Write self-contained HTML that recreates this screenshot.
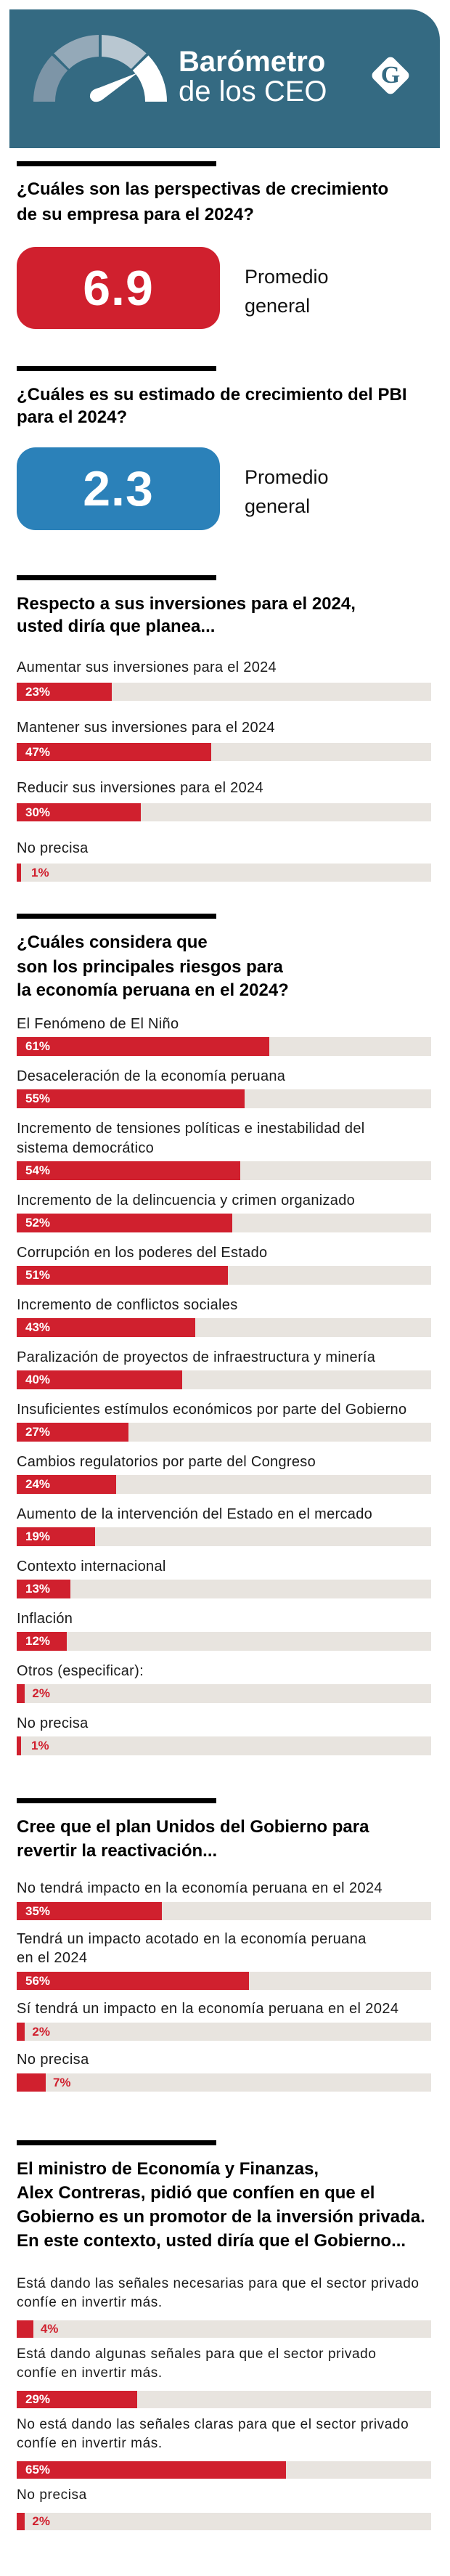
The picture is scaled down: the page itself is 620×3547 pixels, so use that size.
<!DOCTYPE html>
<html><head><meta charset="utf-8">
<style>
*{margin:0;padding:0;box-sizing:border-box}
body{width:620px;height:3547px;background:#fff;position:relative;overflow:hidden;font-family:"Liberation Sans",sans-serif;color:#111}
.abs{position:absolute}
.rule{position:absolute;left:23px;width:275px;height:7px;background:#000}
.title{position:absolute;left:23px;font-weight:bold;font-size:24px;line-height:22px;white-space:nowrap;color:#000}
.box{position:absolute;left:23px;width:280px;border-radius:26px;color:#fff;font-weight:bold;font-size:68px;display:flex;align-items:center;justify-content:center;letter-spacing:1px}
.prom{position:absolute;left:337px;font-size:27px;line-height:40px;color:#111}
.lbl{position:absolute;left:23px;font-size:20px;line-height:26px;white-space:nowrap;color:#1a1a1a}
.track{position:absolute;left:23px;width:571px;background:#e8e4df}
.bar{position:absolute;left:23px;background:#d0202e}
.pct{position:absolute;font-weight:bold;font-size:17px;white-space:nowrap}
</style></head>
<body>
<div class="abs" style="left:13px;top:13px;width:593px;height:191px;background:#346a82;border-top-right-radius:42px">
  <svg width="593" height="191" style="position:absolute;left:0;top:0">
    <g transform="translate(125,127)">
      <path d="M-92 0 A92 92 0 0 1 -66.5 -63.6 L-44.8 -43 A62 62 0 0 0 -62 0 Z" fill="#7d95a7"/>
      <path d="M-63.6 -66.5 A92 92 0 0 1 -2 -92 L-2 -62 A62 62 0 0 0 -42.6 -45 Z" fill="#94a9b8"/>
      <path d="M2 -92 A92 92 0 0 1 63.6 -66.5 L42.6 -45 A62 62 0 0 0 2 -62 Z" fill="#b9c7d1"/>
      <path d="M66.5 -63.6 A92 92 0 0 1 92 0 L62 0 A62 62 0 0 0 44.8 -43 Z" fill="#ffffff"/>
      <path d="M-2 -19 L52 -40 L2 -2 Q-10 4 -14 -6 Q-15 -16 -2 -19 Z" fill="#fff"/>
    </g>
  </svg>
  <div class="abs" style="left:233px;top:50px;color:#fff;font-size:40px;font-weight:bold;line-height:44px">Barómetro</div>
  <div class="abs" style="left:233px;top:91px;color:#fff;font-size:40px;line-height:44px">de los CEO</div>
  <div class="abs" style="left:505px;top:71px;width:40px;height:40px;background:#fff;border-radius:7px;transform:rotate(45deg)"></div>
  <div class="abs" style="left:510px;top:71px;width:30px;text-align:center;color:#346a82;font-size:34px;font-weight:bold;line-height:40px;font-family:'Liberation Serif',serif">G</div>
</div>

<div class="rule" style="top:222px"></div>
<div class="title" style="top:250px">¿Cuáles son las perspectivas de crecimiento</div>
<div class="title" style="top:285px">de su empresa para el 2024?</div>
<div class="box" style="top:340px;height:113px;background:#d0202e">6.9</div>
<div class="prom" style="top:361px">Promedio<br>general</div>

<div class="rule" style="top:504px"></div>
<div class="title" style="top:533px">¿Cuáles es su estimado de crecimiento del PBI</div>
<div class="title" style="top:564px">para el 2024?</div>
<div class="box" style="top:616px;height:114px;background:#2b81b9">2.3</div>
<div class="prom" style="top:637px">Promedio<br>general</div>

<div class="rule" style="top:792px"></div>
<div class="title" style="top:821px">Respecto a sus inversiones para el 2024,</div>
<div class="title" style="top:852px">usted diría que planea...</div>

<div class="rule" style="top:1258px"></div>
<div class="title" style="top:1287px">¿Cuáles considera que</div>
<div class="title" style="top:1321px">son los principales riesgos para</div>
<div class="title" style="top:1353px">la economía peruana en el 2024?</div>

<div class="rule" style="top:2476px"></div>
<div class="title" style="top:2505px">Cree que el plan Unidos del Gobierno para</div>
<div class="title" style="top:2538px">revertir la reactivación...</div>

<div class="rule" style="top:2947px"></div>
<div class="title" style="top:2976px">El ministro de Economía y Finanzas,</div>
<div class="title" style="top:3009px">Alex Contreras, pidió que confíen en que el</div>
<div class="title" style="top:3042px">Gobierno es un promotor de la inversión privada.</div>
<div class="title" style="top:3075px">En este contexto, usted diría que el Gobierno...</div>

<script>
const invCategories = ["Aumentar sus inversiones para el 2024","Mantener sus inversiones para el 2024","Reducir sus inversiones para el 2024","No precisa"];
const invValues = [23,47,30,1];

const riskCategories = ["El Fenómeno de El Niño","Desaceleración de la economía peruana","Incremento de tensiones políticas e inestabilidad del|sistema democrático","Incremento de la delincuencia y crimen organizado","Corrupción en los poderes del Estado","Incremento de conflictos sociales","Paralización de proyectos de infraestructura y minería","Insuficientes estímulos económicos por parte del Gobierno","Cambios regulatorios por parte del Congreso","Aumento de la intervención del Estado en el mercado","Contexto internacional","Inflación","Otros (especificar):","No precisa"];
const riskValues = [61,55,54,52,51,43,40,27,24,19,13,12,2,1];

const planCategories = ["No tendrá impacto en la economía peruana en el 2024","Tendrá un impacto acotado en la economía peruana|en el 2024","Sí tendrá un impacto en la economía peruana en el 2024","No precisa"];
const planValues = [35,56,2,7];

const govCategories = ["Está dando las señales necesarias para que el sector privado|confíe en invertir más.","Está dando algunas señales para que el sector privado|confíe en invertir más.","No está dando las señales claras para que el sector privado|confíe en invertir más.","No precisa"];
const govValues = [4,29,65,2];

const X0 = 23, W = 571;
function xScale(v){ return X0 + v/100*W; }

function drawSection(name, cats, vals, cfg){
  let y = cfg.start;
  cats.forEach((c,i)=>{
    const lines = c.split("|");
    lines.forEach((ln,j)=>{
      const d = document.createElement('div');
      d.className='lbl';
      
      
      d.style.top = (y + j*cfg.lineH - 13) + 'px';
      d.style.fontSize = cfg.font + 'px';
      d.style.letterSpacing = cfg.ls + 'px';
      d.textContent = ln;
      document.body.appendChild(d);
    });
    const barTop = y + (lines.length-1)*cfg.lineH + cfg.toBar;
    const t = document.createElement('div');
    t.className='track';
    
    
    t.style.top = barTop+'px'; t.style.height = cfg.barH+'px';
    document.body.appendChild(t);
    const b = document.createElement('div');
    b.className='bar';
    
    
    const end = xScale(vals[i]);
    b.style.top = barTop+'px'; b.style.height = cfg.barH+'px';
    b.style.width = (end - X0) + 'px';
    document.body.appendChild(b);
    const p = document.createElement('div');
    p.className='pct';
    
    
    p.textContent = vals[i] + '%';
    p.style.top = barTop + 'px';
    p.style.lineHeight = cfg.barH + 'px';
    if (vals[i] >= 10){ p.style.left = (X0+12)+'px'; p.style.color='#fff'; }
    else { p.style.left = Math.max(end+10, 43)+'px'; p.style.color='#d0202e'; }
    document.body.appendChild(p);
    y = barTop + cfg.barH + cfg.toNext;
  });
}
drawSection('investment', invCategories, invValues, {start:919,lineH:26,toBar:21,barH:25,toNext:37,font:20,ls:0.3});
drawSection('risk', riskCategories, riskValues, {start:1410,lineH:27,toBar:18,barH:26,toNext:28,font:20,ls:0.3});
drawSection('plan', planCategories, planValues, {start:2600,lineH:26,toBar:19,barH:25,toNext:26,font:20,ls:0.4});
drawSection('government', govCategories, govValues, {start:3145,lineH:26,toBar:24,barH:24,toNext:23,font:19,ls:0.6});
</script>
</body></html>
